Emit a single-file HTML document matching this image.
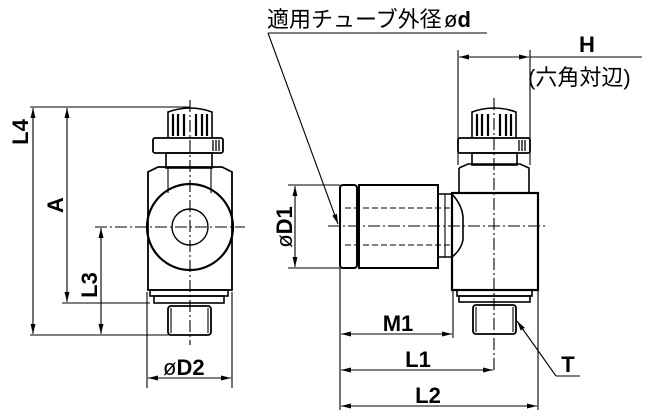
<!DOCTYPE html>
<html><head><meta charset="utf-8"><style>
html,body{margin:0;padding:0;background:#fff;}
svg{display:block;}
text{font-family:"Liberation Sans","Noto Sans CJK JP",sans-serif;fill:#000;}
.b{font-weight:bold;font-size:22px;}
</style></head><body>
<svg width="649" height="417" viewBox="0 0 649 417" xmlns="http://www.w3.org/2000/svg">
<defs>
<marker id="a" markerWidth="10" markerHeight="6" refX="10" refY="3" orient="auto-start-reverse" markerUnits="userSpaceOnUse">
<path d="M0,0.5 L10,3 L0,5.5 Z" fill="#000"/></marker>
</defs>
<g fill="none" stroke="#000" stroke-width="1.1">
<line x1="30" y1="107" x2="190" y2="107"/>
<line x1="95" y1="227" x2="245" y2="227" stroke-dasharray="12,3,2,3"/>
<line x1="190" y1="100" x2="190" y2="345" stroke-dasharray="12,3,2,3"/>
<line x1="62" y1="303" x2="150" y2="303"/>
<line x1="30" y1="335" x2="170" y2="335"/>
<line x1="33" y1="108" x2="33" y2="334" marker-start="url(#a)" marker-end="url(#a)"/>
<line x1="67" y1="108" x2="67" y2="302" marker-start="url(#a)" marker-end="url(#a)"/>
<line x1="101" y1="228" x2="101" y2="334" marker-start="url(#a)" marker-end="url(#a)"/>
<path d="M168,138 L168,112 Q190,104 212,112 L212,138" stroke-width="1.6"/>
<g stroke-width="2.2"><line x1="173" y1="114" x2="173" y2="136"/><line x1="178" y1="114" x2="178" y2="136"/><line x1="184" y1="114" x2="184" y2="136"/><line x1="196" y1="114" x2="196" y2="136"/><line x1="202" y1="114" x2="202" y2="136"/><line x1="207" y1="114" x2="207" y2="136"/></g>
<rect x="153" y="138" width="70" height="15" rx="2" stroke-width="1.8"/>
<g stroke-width="1.3"><line x1="213" y1="140" x2="213" y2="151"/><line x1="216" y1="140" x2="216" y2="151"/><line x1="219" y1="140" x2="219" y2="151"/></g>
<rect x="166" y="153" width="46" height="15" stroke-width="1.6"/>
<path d="M148,172 L158,167 L222,167 L232,172 L232,290 L148,290 Z" stroke-width="1.8"/>
<line x1="168" y1="168" x2="168" y2="193"/><line x1="211" y1="168" x2="211" y2="193"/>
<circle cx="190" cy="227" r="43" stroke-width="2.2"/>
<circle cx="190" cy="227" r="18" stroke-width="1.4"/>
<rect x="150" y="290" width="78" height="6" stroke-width="1.6"/>
<rect x="154" y="296" width="70" height="7" stroke-width="1.6"/>
<rect x="168" y="306" width="43" height="29" rx="3" stroke-width="1.8"/>
<line x1="171" y1="308" x2="171" y2="333"/><line x1="208" y1="308" x2="208" y2="333"/>
<line x1="147" y1="292" x2="147" y2="388"/><line x1="232" y1="292" x2="232" y2="388"/>
<line x1="148" y1="378" x2="231" y2="378" marker-start="url(#a)" marker-end="url(#a)"/>

<line x1="268" y1="33" x2="487" y2="33"/>
<line x1="268" y1="33" x2="338" y2="224" marker-end="url(#a)"/>
<line x1="458" y1="50" x2="458" y2="165"/><line x1="530" y1="50" x2="530" y2="165"/>
<line x1="459" y1="57" x2="529" y2="57" marker-start="url(#a)" marker-end="url(#a)"/>
<line x1="530" y1="57" x2="642" y2="57"/>
<line x1="494" y1="98" x2="494" y2="372" stroke-dasharray="12,3,2,3"/>
<line x1="328" y1="226" x2="546" y2="226" stroke-dasharray="12,3,2,3"/>
<path d="M472,138 L472,112 Q494,104 516,112 L516,138" stroke-width="1.6"/>
<g stroke-width="2.2"><line x1="477" y1="114" x2="477" y2="136"/><line x1="482" y1="114" x2="482" y2="136"/><line x1="488" y1="114" x2="488" y2="136"/><line x1="500" y1="114" x2="500" y2="136"/><line x1="506" y1="114" x2="506" y2="136"/><line x1="511" y1="114" x2="511" y2="136"/></g>
<rect x="458" y="138" width="72" height="15" rx="2" stroke-width="1.8"/>
<g stroke-width="1.3"><line x1="519" y1="140" x2="519" y2="151"/><line x1="522" y1="140" x2="522" y2="151"/><line x1="525" y1="140" x2="525" y2="151"/></g>
<rect x="472" y="153" width="45" height="12" stroke-width="1.6"/>
<path d="M459,168 L468,164 L520,164 L529,168 L529,193" stroke-width="1.6"/>
<line x1="459" y1="168" x2="459" y2="193" stroke-width="1.6"/>
<rect x="452" y="193" width="86" height="97" stroke-width="2.2"/>
<rect x="457" y="290" width="75" height="6" stroke-width="1.6"/>
<rect x="459" y="296" width="71" height="6" stroke-width="1.6"/>
<rect x="473" y="305" width="43" height="29" rx="3" stroke-width="1.8"/>
<line x1="476" y1="307" x2="476" y2="332"/><line x1="513" y1="307" x2="513" y2="332"/>
<rect x="340" y="185" width="17" height="83" rx="3" stroke-width="2"/>
<rect x="359" y="185" width="79" height="83" stroke-width="2"/>
<path d="M438,194 L452,194 Q462,205 463,217 L463,240 Q461,250 452,257 L438,257 Z" stroke-width="1.6"/>
<line x1="445" y1="194" x2="445" y2="257"/>
<line x1="345" y1="208" x2="452" y2="208" stroke-dasharray="6,3"/>
<line x1="345" y1="245" x2="452" y2="245" stroke-dasharray="6,3"/>
<line x1="288" y1="185" x2="340" y2="185"/><line x1="288" y1="268" x2="340" y2="268"/>
<line x1="295" y1="186" x2="295" y2="267" marker-start="url(#a)" marker-end="url(#a)"/>
<line x1="340" y1="268" x2="340" y2="410"/>
<line x1="453" y1="290" x2="453" y2="338"/>
<line x1="538" y1="290" x2="538" y2="410"/>
<line x1="341" y1="334" x2="452" y2="334" marker-start="url(#a)" marker-end="url(#a)"/>
<line x1="341" y1="370" x2="493" y2="370" marker-start="url(#a)" marker-end="url(#a)"/>
<line x1="341" y1="406" x2="537" y2="406" marker-start="url(#a)" marker-end="url(#a)"/>
<line x1="556" y1="376" x2="517" y2="321" marker-end="url(#a)"/>
<line x1="556" y1="376" x2="580" y2="376"/>
</g>
<text x="267" y="27" font-size="22">適用チューブ外径</text>
<text x="444" y="27" font-size="22">ø<tspan font-weight="bold">d</tspan></text>
<text class="b" x="579" y="52">H</text>
<text x="528" y="85" font-size="22">(六角対辺)</text>
<text class="b" x="163" y="375"><tspan font-weight="normal">ø</tspan>D2</text>
<text class="b" transform="translate(28,132) rotate(-90)" text-anchor="middle">L4</text>
<text class="b" transform="translate(63,205) rotate(-90)" text-anchor="middle">A</text>
<text class="b" transform="translate(97,285) rotate(-90)" text-anchor="middle">L3</text>
<text class="b" transform="translate(292,227) rotate(-90)" text-anchor="middle"><tspan font-weight="normal">ø</tspan>D1</text>
<text class="b" x="398" y="331" text-anchor="middle">M1</text>
<text class="b" x="418" y="367" text-anchor="middle">L1</text>
<text class="b" x="428" y="403" text-anchor="middle">L2</text>
<text class="b" x="568" y="372" text-anchor="middle">T</text>
</svg>
</body></html>
